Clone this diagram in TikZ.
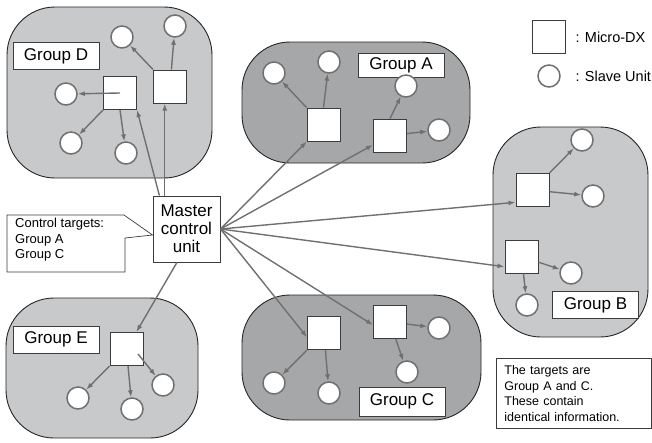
\documentclass[tikz,border=0pt]{standalone}
\usepackage{fontspec}
\setmainfont{Liberation Sans}
\usepackage{tikz}
\usetikzlibrary{arrows.meta}
\definecolor{grplight}{RGB}{200,201,203}
\definecolor{grpdark}{RGB}{166,167,169}
\definecolor{arrgray}{RGB}{112,112,112}
\definecolor{boxline}{RGB}{60,60,60}
\tikzstyle{grpl}=[draw=black!85, fill=grplight, line width=0.9pt, rounded corners=48pt]
\tikzstyle{grpd}=[draw=black!85, fill=grpdark, line width=0.9pt, rounded corners=48pt]
\tikzstyle{mdx}=[draw=boxline, fill=white, line width=1pt, minimum size=33pt, inner sep=0pt]
\tikzstyle{slave}=[circle, draw=arrgray, fill=white, line width=1.5pt, minimum size=22pt, inner sep=0pt]
\tikzstyle{lbl}=[draw=boxline, fill=white, line width=1pt, minimum width=86pt, minimum height=27pt, inner sep=0pt, font=\fontsize{17}{20}\selectfont]
\tikzstyle{arr}=[draw=arrgray, line width=1.4pt, -{Latex[length=7pt,width=5pt]}]

\begin{document}
\begin{tikzpicture}[x=1pt,y=-1pt]
\useasboundingbox (0,0) rectangle (652,442);

% groups
\draw[grpl] (7,7) rectangle (212,178);
\draw[grpd] (242,42) rectangle (470,163);
\draw[grpl] (493,127) rectangle (648,337);
\draw[grpd] (242,295) rectangle (481,420);
\draw[grpl] (6,298) rectangle (198,438);

\node[lbl] (lblD) at (56,56) {Group D};
\node[lbl, minimum height=24pt] (lblA) at (401,65.5) {Group A};
\node[lbl] (lblB) at (595.5,305) {Group B};
\node[lbl, minimum height=29pt] (lblC) at (402,401.5) {Group C};
\node[lbl] (lblE) at (56,339.5) {Group E};

% master unit
\node[draw=boxline, fill=white, line width=1pt, minimum width=67pt, minimum height=66pt,
      align=center, font=\fontsize{17}{18}\selectfont] (master) at (186.5,229) {Master\\control\\unit};

% group D
\node[mdx] (dsq1) at (120,93) {};
\node[mdx] (dsq2) at (170,86.5) {};
\node[slave] (dc1) at (122,37) {};
\node[slave] (dc2) at (175,26) {};
\node[slave] (dc3) at (66,94) {};
\node[slave] (dc4) at (71,143) {};
\node[slave] (dc5) at (126,153) {};
\draw[arr] (dsq2.north west) -- (dc1);
\draw[arr] (dsq2) -- (dc2);
\draw[arr] (dsq1.center) -- (dc3);
\draw[arr] (dsq1.south west) -- (dc4);
\draw[arr] (dsq1.south) -- (dc5);

% group A
\node[mdx] (asq1) at (323.5,124.5) {};
\node[mdx] (asq2) at (390,135.5) {};
\node[slave] (ac1) at (274,73) {};
\node[slave] (ac2) at (329,62) {};
\node[slave] (ac3) at (406,86) {};
\node[slave] (ac4) at (439,130) {};
\draw[arr] (asq1.north west) -- (ac1);
\draw[arr] (asq1.north) -- (ac2);
\draw[arr] (asq2.north) -- (ac3);
\draw[arr] (asq2) -- (ac4);

% group B
\node[mdx] (bsq1) at (532.5,190) {};
\node[mdx] (bsq2) at (521.5,256.5) {};
\node[slave] (bc1) at (582,140) {};
\node[slave] (bc2) at (593,196) {};
\node[slave] (bc3) at (571,273) {};
\node[slave] (bc4) at (527,305) {};
\draw[arr] (bsq1.north east) -- (bc1);
\draw[arr] (bsq1) -- (bc2);
\draw[arr] (bsq2) -- (bc3);
\draw[arr] (bsq2) -- (bc4);

% group C
\node[mdx] (csq1) at (324,333) {};
\node[mdx] (csq2) at (390,322) {};
\node[slave] (cc1) at (274,383) {};
\node[slave] (cc2) at (329,393) {};
\node[slave] (cc3) at (439,328) {};
\node[slave] (cc4) at (407,372) {};
\draw[arr] (csq1.south west) -- (cc1);
\draw[arr] (csq1) -- (cc2);
\draw[arr] (csq2) -- (cc3);
\draw[arr] (csq2) -- (cc4);

% group E
\node[mdx] (esq) at (126.5,349) {};
\node[slave] (ec1) at (78,398) {};
\node[slave] (ec2) at (132,409) {};
\node[slave] (ec3) at (163,385) {};
\coordinate (esqin) at (138,354);
\draw[arr] (esq.south west) -- (ec1);
\draw[arr] (esq) -- (ec2);
\draw[arr] (esqin) -- (ec3);

% master to groups
\draw[arr] (master.129) -- (dsq1.south east);
\draw[arr] (master.123) -- (master.123 |- dsq2.south);
\draw[arr] (master.east) -- (asq1);
\draw[arr] (master.east) -- (asq2);
\draw[arr] (master.east) -- (bsq1.216);
\draw[arr] (master.east) -- (bsq2.211);
\draw[arr] (master.east) -- (csq1.194);
\draw[arr] (master.east) -- (csq2.190);
\draw[arr] (master.254) -- (esq);

% callout
\draw[boxline, line width=0.7pt, fill=white] (7,215) -- (124,215) -- (master.190) -- (125,238) -- (125,272) -- (7,272) -- cycle;
\node[anchor=north west, align=left, inner sep=0pt, font=\fontsize{13}{15.5}\selectfont] (ctrl) at (15,218) {Control targets:\\Group A\\Group C};

% legend
\node[mdx] (legsq) at (549,37) {};
\node[anchor=west, font=\fontsize{14.5}{17}\selectfont] (legsqtxt) at (572,37) {: Micro-DX};
\node[slave] (legc) at (549,76) {};
\node[anchor=west, font=\fontsize{14.5}{17}\selectfont] (legctxt) at (572,76) {: Slave Unit};

% note
\node[draw=boxline, line width=0.8pt, fill=white, anchor=north west, minimum width=155pt, minimum height=70pt,
      text width=139pt, inner xsep=8pt, inner ysep=3pt, align=left, font=\fontsize{12.5}{15.5}\selectfont] (note) at (496,358)
  {The targets are\\Group A and C.\\These contain\\identical information.};
\end{tikzpicture}
\end{document}
